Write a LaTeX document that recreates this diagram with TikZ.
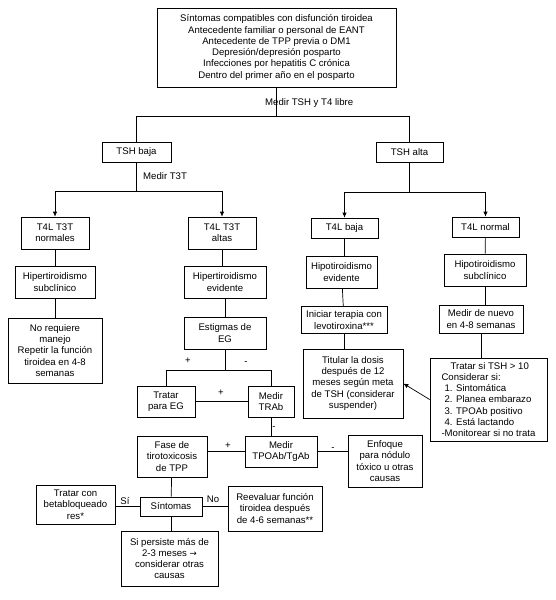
\documentclass[tikz,border=0pt]{standalone}
\usepackage{fontspec}
\setmainfont{Liberation Sans}
\newfontfamily\arrowfont{DejaVu Sans}
\usetikzlibrary{arrows.meta}
\tikzset{
  box/.style={draw, line width=0.7pt, align=center, inner sep=1pt, font=\fontsize{9.6}{11.3}\selectfont},
  lbl/.style={inner sep=0pt, font=\fontsize{9.6}{11.3}\selectfont},
  conn/.style={line width=0.7pt},
  arr/.style={line width=0.7pt, -{Latex[length=5pt,width=4.5pt]}}
}
\begin{document}
\begin{tikzpicture}[x=1pt,y=-1pt]
\useasboundingbox (0,0) rectangle (556,600);
% nodes
\node[box, minimum width=239pt, minimum height=79pt] (top) at (276.5,47.5) {Síntomas compatibles con disfunción tiroidea\\Antecedente familiar o personal de EANT\\Antecedente de TPP previa o DM1\\Depresión/depresión posparto\\Infecciones por hepatitis C crónica\\Dentro del primer año en el posparto};
\node[box, minimum width=69pt, minimum height=20pt] (tshbaja) at (136.5,152) {TSH baja};
\node[box, minimum width=67pt, minimum height=20pt] (tshalta) at (409.5,152) {TSH alta};
\node[box, minimum width=68pt, minimum height=32pt] (normales) at (55,233) {T4L T3T\\normales};
\node[box, minimum width=68pt, minimum height=32pt] (altas) at (222,233) {T4L T3T\\altas};
\node[box, minimum width=67pt, minimum height=20pt] (t4lbaja) at (344.5,228) {T4L baja};
\node[box, minimum width=67pt, minimum height=20pt] (t4lnormal) at (485.5,227) {T4L normal};
\node[box, minimum width=80pt, minimum height=32pt] (hipersub) at (55,282) {Hipertiroidismo\\subclínico};
\node[box, minimum width=82pt, minimum height=32pt] (hiperev) at (225,282) {Hipertiroidismo\\evidente};
\node[box, minimum width=71pt, minimum height=32pt] (hipoev) at (341.5,272) {Hipotiroidismo\\evidente};
\node[box, minimum width=82pt, minimum height=32pt] (hiposub) at (485,270) {Hipotiroidismo\\subclínico};
\node[box, minimum width=94pt, minimum height=65pt] (noreq) at (55,350.5) {No requiere\\manejo\\Repetir la función\\tiroidea en 4-8\\semanas};
\node[box, minimum width=82pt, minimum height=32pt] (estigmas) at (225,333) {Estigmas de\\EG};
\node[box, minimum width=86pt, minimum height=27pt] (iniciar) at (344,320) {Iniciar terapia con\\levotiroxina***};
\node[box, minimum width=84pt, minimum height=28pt] (medirnuevo) at (481,319) {Medir de nuevo\\en 4-8 semanas};
\node[box, minimum width=100pt, minimum height=69pt] (titular) at (353,383.5) {Titular la dosis\\después de 12\\meses según meta\\de TSH (considerar\\suspender)};
\node[box, align=left, minimum width=117pt, minimum height=83pt] (tratarsi) at (488.5,399.5) {\hspace*{9pt}Tratar si TSH > 10\\Considerar si:\\\hspace*{3pt}1. Sintomática\\\hspace*{3pt}2. Planea embarazo\\\hspace*{3pt}3. TPOAb positivo\\\hspace*{3pt}4. Está lactando\\-Monitorear si no trata};
\node[box, minimum width=58pt, minimum height=31pt] (tratareg) at (166,401.5) {Tratar\\para EG};
\node[box, minimum width=46pt, minimum height=31pt] (trab) at (271,401.5) {Medir\\TRAb};
\node[box, minimum width=72pt, minimum height=31pt] (tpoab) at (281,451.5) {Medir\\TPOAb/TgAb};
\node[box, minimum width=70pt, minimum height=41pt] (fase) at (172,456.5) {Fase de\\tirotoxicosis\\de TPP};
\node[box, minimum width=74pt, minimum height=52pt] (enfoque) at (385,461) {Enfoque\\para nódulo\\tóxico u otras\\causas};
\node[box, minimum width=62pt, minimum height=19pt] (sintomas) at (171,506.5) {Síntomas};
\node[box, minimum width=79pt, minimum height=39pt] (beta) at (75.5,504.5) {Tratar con\\betabloqueado\\res*};
\node[box, minimum width=94pt, minimum height=45pt] (reeval) at (275,508.5) {Reevaluar función\\tiroidea después\\de 4-6 semanas**};
\node[box, minimum width=97pt, minimum height=55pt] (persiste) at (169.5,558.5) {Si persiste más de\\2-3 meses {\arrowfont\fontsize{8.6}{11}\selectfont →}\\considerar otras\\causas};
% connectors
\draw[conn] (top.south) -- ++(0,29) coordinate (j1);
\draw[conn] (tshbaja.north) |- (j1) -| (tshalta.north);
\draw[conn] (tshbaja.south) -- ++(0,29) coordinate (j2);
\draw[arr] (j2) -| (normales.north);
\draw[arr] (j2) -| (altas.north);
\draw[conn] (tshalta.south) -- ++(0,30) coordinate (j3);
\draw[arr] (j3) -| (t4lbaja.north);
\draw[arr] (j3) -| (t4lnormal.north);
\draw[conn] (normales) -- (hipersub);
\draw[conn] (hipersub) -- (noreq);
\draw[conn] (altas.south) -- (altas.south |- hiperev.north);
\draw[conn] (hiperev) -- (estigmas);
\draw[conn] (t4lbaja.south) -- (t4lbaja.south |- hipoev.north);
\draw[conn] (hipoev) -- (iniciar);
\draw[conn] (iniciar.south) -- (iniciar.south |- titular.north);
\draw[conn] (t4lnormal) -- (hiposub);
\draw[conn] (hiposub.south) -- (hiposub.south |- medirnuevo.north);
\draw[conn] (medirnuevo.south) -- (medirnuevo.south |- tratarsi.north);
\draw[arr] (tratarsi.west) -- (titular.east);
\draw[conn] (estigmas.south) -- ++(0,21) coordinate (j4);
\draw[conn] (tratareg.north) |- (j4) -| (trab.north);
\draw[conn] (tratareg.east |- trab.west) -- (trab.west);
\draw[conn] (trab.south) -- (trab.south |- tpoab.north);
\draw[conn] (fase.east |- tpoab.west) -- (tpoab.west);
\draw[conn] (tpoab.east) -- (tpoab.east -| enfoque.west);
\draw[conn] (fase) -- (sintomas);
\draw[conn] (sintomas.west) -- (sintomas.west -| beta.east);
\draw[conn] (sintomas.east) -- (sintomas.east -| reeval.west);
\draw[conn] (sintomas.south) -- (sintomas.south |- persiste.north);
% labels
\node[lbl, anchor=west] (lmedir) at (265,103) {Medir TSH y T4 libre};
\node[lbl, anchor=west] (lt3t) at (143,176) {Medir T3T};
\node[lbl] (lp1) at (188,361) {+};
\node[lbl] (lm1) at (246,363) {-};
\node[lbl] (lp2) at (221,393) {+};
\node[lbl] (lm2) at (274,428) {-};
\node[lbl] (lp3) at (228,446) {+};
\node[lbl] (lm3) at (333,449) {-};
\node[lbl] (lsi) at (125,501) {Sí};
\node[lbl] (lno) at (213,499) {No};
\end{tikzpicture}
\end{document}
